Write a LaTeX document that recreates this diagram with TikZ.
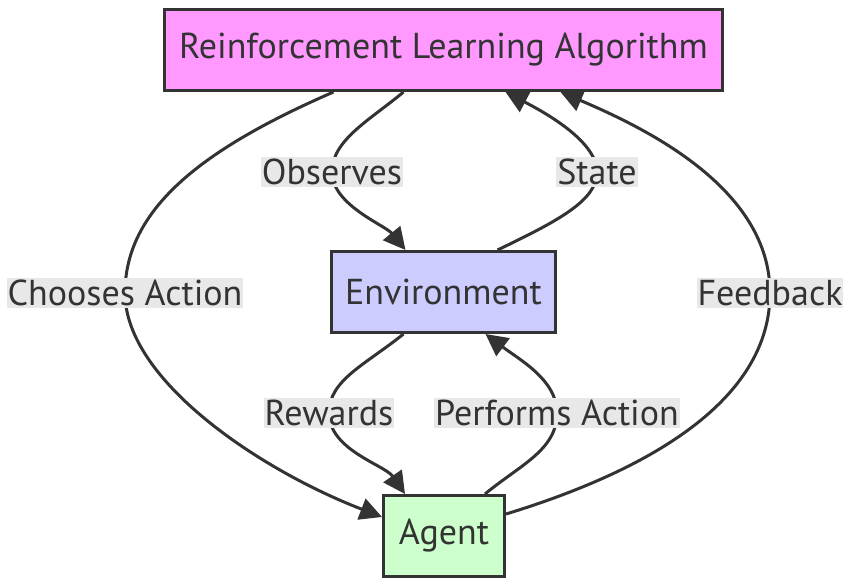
\documentclass[tikz,border=0pt]{standalone}
\usepackage{fontspec}
\setmainfont{PT Sans}
\usetikzlibrary{arrows.meta}
\definecolor{rlcol}{HTML}{FF99FF}
\definecolor{envcol}{HTML}{CCCCFF}
\definecolor{agcol}{HTML}{CCFFCC}
\definecolor{edge}{HTML}{333333}
\definecolor{lbl}{HTML}{E8E8E8}
\begin{document}
\begin{tikzpicture}[x=1pt,y=-1pt,>={Triangle[length=22pt,width=22pt]},
  b/.style={draw=edge,line width=3pt,minimum height=81pt,text=edge,font=\fontsize{36}{42}\selectfont},
  l/.style={fill=lbl,text=edge,inner xsep=1pt,inner ysep=2pt,font=\fontsize{36}{42}\selectfont},
  e/.style={->,draw=edge,line width=3pt}]
\useasboundingbox (0,0) rectangle (846,578);
\node[b,fill=rlcol,minimum width=558pt] (rl) at (443.5,50) {Reinforcement Learning Algorithm};
\node[b,fill=envcol,minimum width=224pt] (env) at (443.5,292) {Environment};
\node[b,fill=agcol,minimum width=121pt] (ag) at (444,536) {Agent};
% edges
\draw[e] ([xshift=-110pt]rl.south) .. controls (200,150) and (125,210) .. (125,293)
  .. controls (125,380) and (260,470) .. ([yshift=19pt]ag.west);
\draw[e] ([xshift=-40pt]rl.south) .. controls (370,120) and (332,140) .. (332,172)
  .. controls (332,205) and (385,225) .. ([xshift=-38pt]env.north);
\draw[e] ([xshift=54pt]env.north) .. controls (560,220) and (597,200) .. (597,172)
  .. controls (597,140) and (540,110) .. ([xshift=62pt]rl.south);
\draw[e] ([yshift=22pt]ag.east) .. controls (650,470) and (770,400) .. (770,293)
  .. controls (770,190) and (650,130) .. ([xshift=117pt]rl.south);
\draw[e] ([xshift=-40pt]env.south) .. controls (365,365) and (329,380) .. (329,413)
  .. controls (329,450) and (385,465) .. ([xshift=-39pt]ag.north);
\draw[e] ([xshift=41pt]ag.north) .. controls (520,465) and (557,450) .. (557,413)
  .. controls (557,380) and (520,360) .. ([xshift=42pt]env.south);
% labels
\node[l] (obs) at (332,172) {Observes};
\node[l] (st) at (597,172) {State};
\node[l] (ch) at (125,293) {Chooses Action};
\node[l] (fb) at (770,293) {Feedback};
\node[l] (rw) at (329,413) {Rewards};
\node[l] (pa) at (557,413) {Performs Action};
\end{tikzpicture}
\end{document}
